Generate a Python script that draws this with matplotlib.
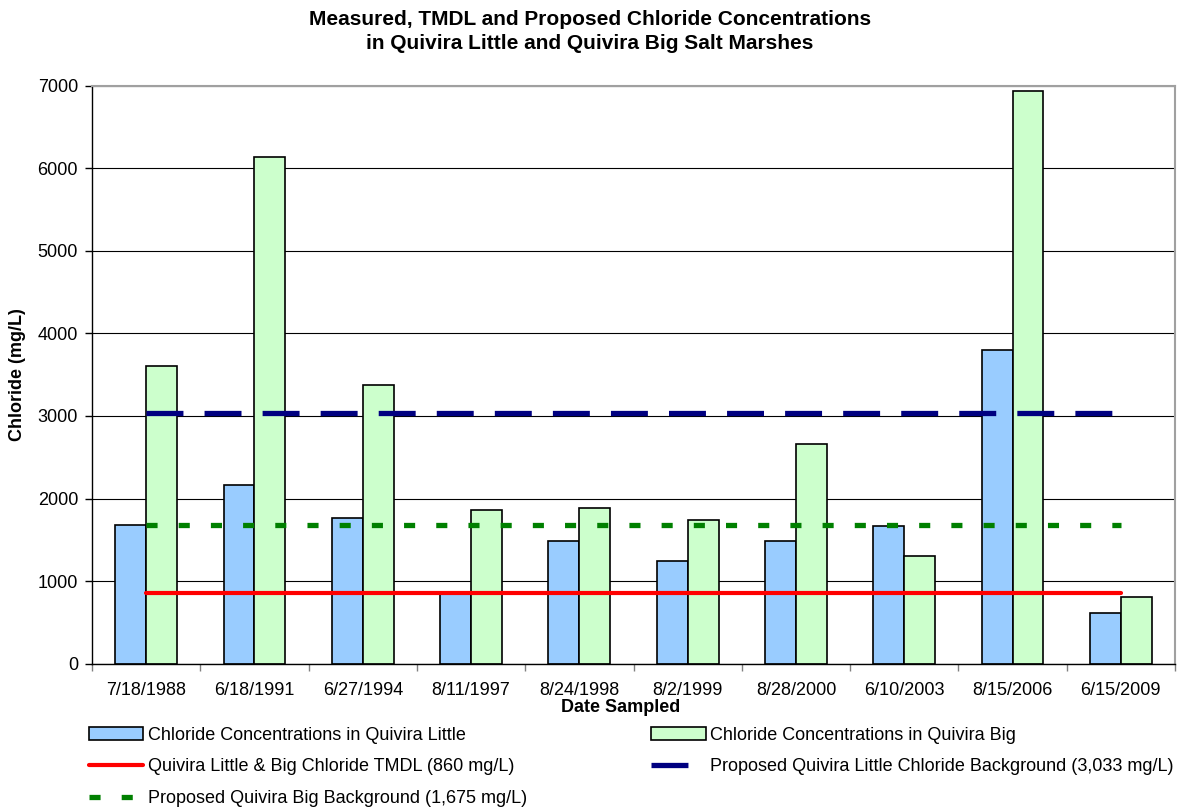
import numpy as np
import matplotlib
matplotlib.use("Agg")
import matplotlib.pyplot as plt
from matplotlib.patches import Patch
from matplotlib.lines import Line2D

# sampling dates and chloride results (mg/L)
dates = ["7/18/1988", "6/18/1991", "6/27/1994", "8/11/1997", "8/24/1998",
         "8/2/1999", "8/28/2000", "6/10/2003", "8/15/2006", "6/15/2009"]
little = [1680, 2160, 1760, 840, 1480, 1240, 1490, 1670, 3800, 610]
big = [3610, 6130, 3380, 1860, 1880, 1735, 2665, 1305, 6935, 810]

# reference levels
tmdl = 860
little_bg = 3033
big_bg = 1675

plt.rcParams['font.family'] = ['Liberation Sans', 'DejaVu Sans']

W, H = 1180, 809
fig = plt.figure(figsize=(W / 100, H / 100), dpi=100)
left, right, top, bottom = 92, 1175, 85.6, 663.7
ax = fig.add_axes([left / W, 1 - bottom / H, (right - left) / W, (bottom - top) / H])

x = np.arange(len(dates))
w = 0.285
ax.bar(x - w / 2, little, w, color='#99CCFF', edgecolor='black', linewidth=1.2, zorder=2)
ax.bar(x + w / 2, big, w, color='#CCFFCC', edgecolor='black', linewidth=1.2, zorder=2)

ax.plot(x, [tmdl] * len(x), color='#FF0000', lw=3, solid_capstyle='round', zorder=3)
ax.plot(x, [little_bg] * len(x), color='#000080', lw=3.8, dashes=(7, 4), zorder=3)
ax.plot(x, [big_bg] * len(x), color='#008000', lw=3.8, dashes=(2.1, 4), zorder=3)

ax.set_xlim(-0.5, len(dates) - 0.5)
ax.set_ylim(0, 7000)
ax.set_yticks(range(0, 7001, 1000))
ax.yaxis.grid(True, color='black', lw=0.8)
ax.set_axisbelow(True)
ax.tick_params(axis='y', labelsize=13, length=5, width=1, pad=5)

ax.set_xticks(x)
ax.set_xticklabels(dates)
ax.set_xticks(np.arange(-0.5, len(dates)), minor=True)
ax.tick_params(axis='x', which='major', length=0, labelsize=13, pad=13)
ax.tick_params(axis='x', which='minor', length=5, width=1, color='#808080')

for side in ['top', 'right']:
    ax.spines[side].set_color('#A0A0A0')
    ax.spines[side].set_linewidth(1.5)
for side in ['left', 'bottom']:
    ax.spines[side].set_color('black')
    ax.spines[side].set_linewidth(1)

fig.text(590 / W, 1 - 31.5 / H,
         "Measured, TMDL and Proposed Chloride Concentrations\n"
         "in Quivira Little and Quivira Big Salt Marshes",
         ha='center', va='center', fontsize=15, fontweight='bold', linespacing=1.3)
fig.text(18 / W, 1 - 375 / H, "Chloride (mg/L)", rotation=90,
         ha='center', va='center', fontsize=13, fontweight='bold')
fig.text(621 / W, 1 - 708 / H, "Date Sampled",
         ha='center', va='center', fontsize=13, fontweight='bold')

# legend: column-first order gives rows (little, big), (tmdl, little bg), (big bg)
h_little = Patch(facecolor='#99CCFF', edgecolor='black', linewidth=1.2)
h_big = Patch(facecolor='#CCFFCC', edgecolor='black', linewidth=1.2)
h_tmdl = Line2D([], [], color='#FF0000', lw=3, solid_capstyle='round')
h_lbg = Line2D([], [], color='#000080', lw=3.8, dashes=(7, 4))
h_bbg = Line2D([], [], color='#008000', lw=3.8, dashes=(2.1, 4))
handles = [h_little, h_tmdl, h_bbg, h_big, h_lbg]
labels = ["Chloride Concentrations in Quivira Little",
          "Quivira Little & Big Chloride TMDL (860 mg/L)",
          "Proposed Quivira Big Background (1,675 mg/L)",
          "Chloride Concentrations in Quivira Big",
          "Proposed Quivira Little Chloride Background (3,033 mg/L)"]
fig.legend(handles, labels, ncol=2, loc='upper left',
           bbox_to_anchor=(89 / W, 1 - 727 / H), frameon=False,
           fontsize=13, borderpad=0, borderaxespad=0,
           handlelength=3.0, handleheight=0.7, handletextpad=0.25,
           labelspacing=0.8, columnspacing=6.9)

fig.savefig("out.png", dpi=100)
